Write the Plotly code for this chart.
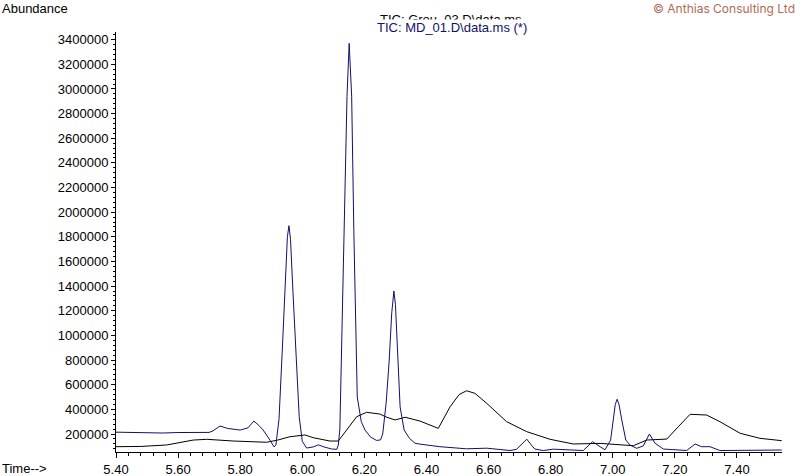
import plotly.graph_objects as go

# TIC: MD_01.D\data.ms (*)  - sharp peaks, navy
md01_time = [5.40, 5.45, 5.50, 5.55, 5.60, 5.65, 5.70, 5.712, 5.735, 5.76, 5.80, 5.825,
             5.844, 5.86, 5.874, 5.896, 5.909, 5.915, 5.925, 5.935, 5.945, 5.952, 5.957,
             5.962, 5.970, 5.980, 5.990, 6.000, 6.014, 6.035, 6.052, 6.07, 6.095, 6.111,
             6.116, 6.121, 6.134, 6.144, 6.151, 6.159, 6.166, 6.177, 6.190, 6.202, 6.220,
             6.239, 6.252, 6.259, 6.270, 6.280, 6.288, 6.295, 6.300, 6.307, 6.315, 6.328,
             6.345, 6.363, 6.379, 6.443, 6.529, 6.594, 6.669, 6.690, 6.708, 6.723, 6.738,
             6.749, 6.776, 6.808, 6.905, 6.920, 6.935, 6.959, 6.975, 6.993, 7.001, 7.008,
             7.014, 7.020, 7.029, 7.042, 7.055, 7.077, 7.098, 7.118, 7.136, 7.163, 7.238,
             7.265, 7.286, 7.313, 7.345, 7.496, 7.544]
md01_abund = [215000, 212000, 214000, 208000, 212000, 210000, 213000, 225000, 265000, 245000,
              232000, 250000, 305000, 270000, 232000, 150000, 95000, 110000, 320000, 850000,
              1450000, 1800000, 1890000, 1780000, 1350000, 800000, 340000, 140000, 86000,
              95000, 112000, 95000, 78000, 76000, 110000, 240000, 1850000, 2940000, 3370000,
              2940000, 1850000, 500000, 300000, 232000, 175000, 148000, 152000, 200000,
              450000, 800000, 1180000, 1360000, 1250000, 790000, 420000, 232000, 165000,
              125000, 118000, 97000, 80000, 85000, 66000, 76000, 120000, 158000, 110000,
              78000, 66000, 77000, 66000, 100000, 138000, 97000, 72000, 151000, 314000,
              440000, 482000, 440000, 314000, 151000, 111000, 84000, 103000, 200000, 125000,
              78000, 66000, 119000, 97000, 97000, 66000, 66000, 70000]

# TIC: Grou_03.D\data.ms  - broad humps, black
grou03_time = [5.40, 5.48, 5.563, 5.60, 5.649, 5.692, 5.735, 5.778, 5.885, 5.92, 5.960,
               6.009, 6.035, 6.057, 6.089, 6.116, 6.143, 6.175, 6.207, 6.250, 6.272, 6.299,
               6.331, 6.379, 6.438, 6.476, 6.505, 6.529, 6.556, 6.594, 6.658, 6.723, 6.798,
               6.873, 6.959, 7.066, 7.109, 7.174, 7.211, 7.249, 7.302, 7.345, 7.410, 7.474,
               7.544]
grou03_abund = [97000, 99000, 111000, 130000, 151000, 157000, 150000, 143000, 133000, 150000,
                178000, 192000, 170000, 157000, 143000, 143000, 232000, 340000, 376000,
                362000, 336000, 314000, 336000, 305000, 246000, 421000, 520000, 551000,
                530000, 449000, 300000, 219000, 157000, 119000, 124000, 105000, 151000,
                159000, 259000, 360000, 354000, 300000, 206000, 165000, 146000]

x_ticks = [5.40, 5.60, 5.80, 6.00, 6.20, 6.40, 6.60, 6.80, 7.00, 7.20, 7.40]
y_ticks = list(range(200000, 3400001, 200000))

navy = "#10106a"
fnt = "Liberation Sans, Arial, sans-serif"

fig = go.Figure()
fig.add_trace(go.Scatter(x=grou03_time, y=grou03_abund, mode="lines",
                         line=dict(color="black", width=1), name="Grou_03"))
fig.add_trace(go.Scatter(x=md01_time, y=md01_abund, mode="lines",
                         line=dict(color=navy, width=1), name="MD_01"))

fig.update_layout(
    width=800, height=476,
    margin=dict(l=116, r=18, t=32, b=24),
    paper_bgcolor="white", plot_bgcolor="white",
    showlegend=False,
    font=dict(family=fnt, size=13, color="black"),
)
fig.update_xaxes(range=[5.40, 7.545], tickvals=x_ticks,
                 ticktext=["%.2f" % v for v in x_ticks], automargin=False,
                 showgrid=False, zeroline=False, showline=True, linecolor="black", linewidth=1,
                 ticks="outside", ticklen=5, tickcolor="black",
                 minor=dict(ticks="outside", ticklen=3, dtick=0.04, tickcolor="black", showgrid=False),
                 tickfont=dict(size=13))
fig.update_yaxes(range=[54000, 3462000], tickvals=y_ticks, ticktext=[str(v) for v in y_ticks],
                 automargin=False,
                 showgrid=False, zeroline=False, showline=True, linecolor="black", linewidth=1,
                 ticks="outside", ticklen=4, tickcolor="black",
                 minor=dict(ticks="outside", ticklen=2, dtick=40000, tickcolor="black", showgrid=False),
                 tickfont=dict(size=13))

# texts around the plot (paper coords worked out from pixels)
fig.add_annotation(text="Abundance", xref="paper", yref="paper", x=-0.1742, y=1.0548,
                   xanchor="left", yanchor="middle", showarrow=False, font=dict(size=13))
fig.add_annotation(text="Time-->", xref="paper", yref="paper", x=-0.1742, y=-0.0381,
                   xanchor="left", yanchor="middle", showarrow=False, font=dict(size=13))
fig.add_annotation(text="© Anthias Consulting Ltd", xref="paper", yref="paper", x=1.0225, y=1.0548,
                   xanchor="right", yanchor="middle", showarrow=False,
                   font=dict(family="Inter, sans-serif", size=12, color="#b06a55"))
# first title is half hidden behind the second one, as in the original printout
fig.add_annotation(text="TIC: Grou_03.D\\data.ms", xref="paper", yref="paper", x=0.3934, y=1.0286,
                   xanchor="left", yanchor="middle", showarrow=False, font=dict(size=13))
fig.add_annotation(text="TIC: MD_01.D\\data.ms (*)", xref="paper", yref="paper", x=0.3904, y=1.0119,
                   xanchor="left", yanchor="middle", showarrow=False, bgcolor="white", borderpad=0,
                   font=dict(size=13, color=navy))

# page body has a default 8px margin; drop it so the figure sits at the window corner
fig.write_html("out.html", config={"displayModeBar": False},
               post_script="document.body.style.margin='0';")
